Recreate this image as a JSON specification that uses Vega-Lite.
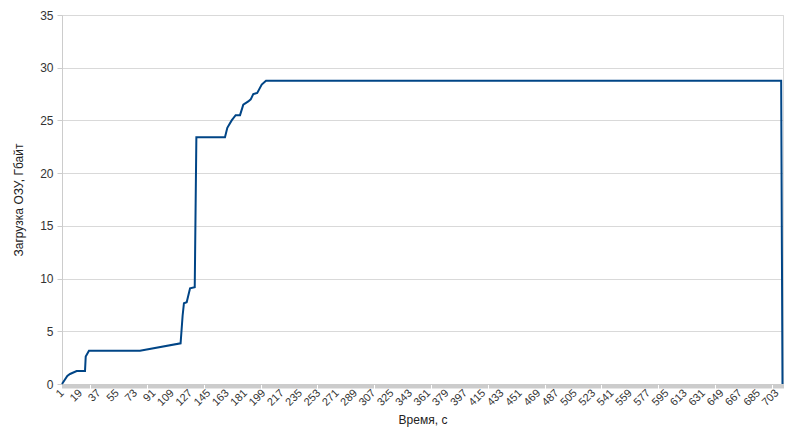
{
  "$schema": "https://vega.github.io/schema/vega-lite/v6.json",
  "autosize": "none",
  "width": 721,
  "height": 369,
  "padding": {"left": 62, "top": 15, "right": 17, "bottom": 47},
  "background": "white",
  "config": {
    "font": "Liberation Sans",
    "view": {"stroke": "#d9d9d9", "strokeWidth": 1},
    "axis": {"labelFont": "Liberation Sans", "titleFont": "Liberation Sans", "labelColor": "#333333", "titleColor": "#222222", "titleFontWeight": "normal"}
  },
  "data": {"values": [
    {"t": 1, "v": 0},
    {"t": 6.2, "v": 0.76},
    {"t": 8.9, "v": 0.95},
    {"t": 15.4, "v": 1.23},
    {"t": 23.6, "v": 1.23},
    {"t": 24.3, "v": 2.6},
    {"t": 27.5, "v": 3.16},
    {"t": 77.6, "v": 3.16},
    {"t": 117.5, "v": 3.86},
    {"t": 119.5, "v": 6.5},
    {"t": 120.8, "v": 7.66},
    {"t": 123.5, "v": 7.75},
    {"t": 126.8, "v": 9.07},
    {"t": 131.4, "v": 9.17},
    {"t": 133.0, "v": 23.4},
    {"t": 161.1, "v": 23.4},
    {"t": 163.4, "v": 24.3},
    {"t": 167.7, "v": 25.0},
    {"t": 171.6, "v": 25.5},
    {"t": 175.9, "v": 25.5},
    {"t": 179.1, "v": 26.5},
    {"t": 184.0, "v": 26.8},
    {"t": 186.4, "v": 27.0},
    {"t": 188.9, "v": 27.5},
    {"t": 192.8, "v": 27.6},
    {"t": 197.2, "v": 28.4},
    {"t": 201.4, "v": 28.77},
    {"t": 707.5, "v": 28.77},
    {"t": 708.8, "v": 0}
  ]},
  "mark": {"type": "line", "color": "#004586", "strokeWidth": 2},
  "encoding": {
    "x": {
      "field": "t", "type": "quantitative",
      "scale": {"domain": [1, 709.3], "nice": false, "zero": false},
      "axis": {
        "title": "Время, с", "titleFontSize": 12, "titlePadding": 7,
        "tickCount": 709, "labelExpr": "(datum.value - 1) % 18 == 0 ? datum.label : ''",
        "labelOverlap": false, "labelFlush": false, "labelBound": false,
        "labelAngle": -45, "labelAlign": "right", "labelBaseline": "middle", "labelFontSize": 11, "labelPadding": 3,
        "grid": false, "tickColor": "#cccccc", "tickSize": 4, "domainColor": "#cccccc"
      }
    },
    "y": {
      "field": "v", "type": "quantitative",
      "scale": {"domain": [0, 35], "nice": false},
      "axis": {
        "title": "Загрузка ОЗУ, Гбайт", "titleFontSize": 12, "titlePadding": 14,
        "values": [0, 5, 10, 15, 20, 25, 30, 35], "labelFontSize": 12, "labelPadding": 4,
        "gridColor": "#d9d9d9", "tickColor": "#cccccc", "tickSize": 5, "domainColor": "#cccccc"
      }
    }
  }
}
